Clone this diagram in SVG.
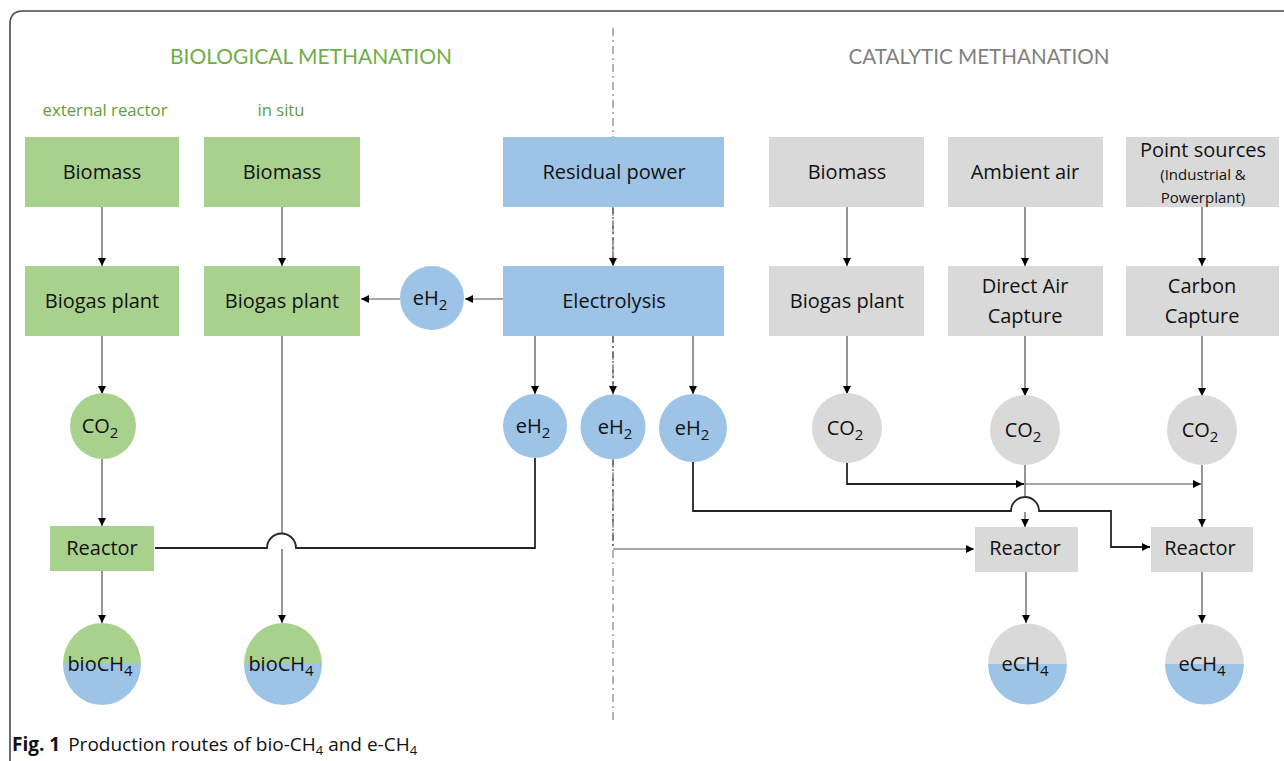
<svg xmlns="http://www.w3.org/2000/svg" width="1284" height="761" viewBox="0 0 1284 761">
<style>
  .lbl { font-family: "Open Sans", "Liberation Sans", sans-serif; font-size: 20px; fill: #111; text-anchor: middle; }
  .sub { font-size: 15px; }
  .small { font-family: "Open Sans", "Liberation Sans", sans-serif; font-size: 15px; fill: #111; text-anchor: middle; }
  .green { fill: #A9D18E; }
  .blue { fill: #9DC3E6; }
  .gray { fill: #D9D9D9; }
  .c { fill: none; stroke: #505050; stroke-width: 1.2; }
  .thick { fill: none; stroke: #262626; stroke-width: 1.8; }
  .dd { fill: none; stroke: #505050; stroke-width: 1.2; stroke-dasharray: 7 3 2 3; }
  .title { font-family: Lato, "Open Sans", "Liberation Sans", sans-serif; font-size: 21px; text-anchor: middle; }
  .subtitle { font-family: "Open Sans", "Liberation Sans", sans-serif; font-size: 16px; fill: #5F9E3C; text-anchor: middle; }
  .cap { font-family: "Open Sans", "Liberation Sans", sans-serif; font-size: 19px; fill: #111; }
</style>
<defs>
  <marker id="arr" markerUnits="userSpaceOnUse" markerWidth="9" markerHeight="8" refX="8" refY="4" orient="auto">
    <path d="M0,0 L8,4 L0,8 z" fill="#000"/>
  </marker>
</defs>
<rect width="1284" height="761" fill="#fff"/>
<!-- frame -->
<path d="M10,761 V24 Q10,11 23,11 H1284" fill="none" stroke="#4a4a4a" stroke-width="1.6"/>
<!-- divider -->
<line x1="613" y1="28" x2="613" y2="722" stroke="#808080" stroke-width="1.2" stroke-dasharray="8 4 2 4"/>

<!-- headings -->
<text class="title" x="311" y="64" fill="#70AD47" textLength="282" lengthAdjust="spacingAndGlyphs">BIOLOGICAL METHANATION</text>
<text class="title" x="979" y="64" fill="#808080" textLength="261" lengthAdjust="spacingAndGlyphs">CATALYTIC METHANATION</text>
<text class="subtitle" x="105" y="116" textLength="125" lengthAdjust="spacingAndGlyphs">external reactor</text>
<text class="subtitle" x="281" y="116" textLength="47" lengthAdjust="spacingAndGlyphs">in situ</text>

<g id="connectors">
  <path class="c" d="M102,207 V266" marker-end="url(#arr)"/>
  <path class="c" d="M282,207 V266" marker-end="url(#arr)"/>
  <path class="c" d="M102,336 V394" marker-end="url(#arr)"/>
  <path class="c" d="M102,459 V526" marker-end="url(#arr)"/>
  <path class="c" d="M102,571 V623" marker-end="url(#arr)"/>
  <path class="c" d="M282,336 V534"/>
  <path class="c" d="M282,549 V623" marker-end="url(#arr)"/>
  <path class="thick" d="M535,458 V548 H296 A14.5,14.5 0 0 0 267,548 H155"/>
  <path class="dd" d="M613,207 V266" marker-end="url(#arr)"/>
  <path class="c" d="M503,299 H465" marker-end="url(#arr)"/>
  <path class="c" d="M400,299 H361" marker-end="url(#arr)"/>
  <path class="c" d="M535,336 V394" marker-end="url(#arr)"/>
  <path class="dd" d="M613,336 V394" marker-end="url(#arr)"/>
  <path class="c" d="M693,336 V394" marker-end="url(#arr)"/>
  <path class="dd" d="M613,459 V549"/>
  <path class="c" d="M613,549 H974" marker-end="url(#arr)"/>
  <path class="thick" d="M693,462 V511 H1011 A14,14 0 0 1 1039,511 H1111 V547 H1150" marker-end="url(#arr)"/>
  <path class="c" d="M847,207 V266" marker-end="url(#arr)"/>
  <path class="c" d="M1025,207 V266" marker-end="url(#arr)"/>
  <path class="c" d="M1202,207 V266" marker-end="url(#arr)"/>
  <path class="c" d="M847,336 V394" marker-end="url(#arr)"/>
  <path class="c" d="M1025,336 V396" marker-end="url(#arr)"/>
  <path class="c" d="M1202,336 V396" marker-end="url(#arr)"/>
  <path class="thick" d="M847,462 V484 H1024" marker-end="url(#arr)"/>
  <path class="c" d="M1025,484 H1201" marker-end="url(#arr)"/>
  <path class="c" d="M1025,465 V497"/>
  <path class="c" d="M1025,512 V527" marker-end="url(#arr)"/>
  <path class="c" d="M1202,465 V527" marker-end="url(#arr)"/>
  <path class="c" d="M1026,572 V623" marker-end="url(#arr)"/>
  <path class="c" d="M1202,572 V623" marker-end="url(#arr)"/>
</g>

<g id="biomass-ext"><rect class="green" x="25" y="137" width="154" height="70"/><text class="lbl" x="102" y="179">Biomass</text></g>
<g id="biomass-insitu"><rect class="green" x="204" y="137" width="156" height="70"/><text class="lbl" x="282" y="179">Biomass</text></g>
<g id="biogas-ext"><rect class="green" x="25" y="266" width="154" height="70"/><text class="lbl" x="102" y="308">Biogas plant</text></g>
<g id="biogas-insitu"><rect class="green" x="204" y="266" width="156" height="70"/><text class="lbl" x="282" y="308">Biogas plant</text></g>
<g id="co2-bio"><circle class="green" cx="103" cy="426" r="33"/><text class="lbl" x="100" y="433">CO<tspan class="sub" dy="5">2</tspan></text></g>
<g id="reactor-bio"><rect class="green" x="50" y="526" width="104" height="45"/><text class="lbl" x="102" y="555">Reactor</text></g>
<g id="bioch4-1"><path class="green" d="M63,664 A39,41 0 0 1 141,664 Z"/><path class="blue" d="M63,664 A39,41 0 0 0 141,664 Z"/><text class="lbl" x="100" y="671">bioCH<tspan class="sub" dy="5">4</tspan></text></g>
<g id="bioch4-2"><path class="green" d="M244,664 A39,41 0 0 1 322,664 Z"/><path class="blue" d="M244,664 A39,41 0 0 0 322,664 Z"/><text class="lbl" x="281" y="671">bioCH<tspan class="sub" dy="5">4</tspan></text></g>

<g id="residual-power"><rect class="blue" x="503" y="137" width="221" height="70"/><text class="lbl" x="614" y="179">Residual power</text></g>
<g id="electrolysis"><rect class="blue" x="503" y="266" width="221" height="70"/><text class="lbl" x="614" y="308">Electrolysis</text></g>
<g id="eh2-insitu"><circle class="blue" cx="432" cy="298" r="32"/><text class="lbl" x="430" y="305">eH<tspan class="sub" dy="5">2</tspan></text></g>
<g id="eh2-a"><circle class="blue" cx="535" cy="426" r="32"/><text class="lbl" x="533" y="433">eH<tspan class="sub" dy="5">2</tspan></text></g>
<g id="eh2-b"><circle class="blue" cx="613" cy="427" r="32.5"/><text class="lbl" x="615" y="434">eH<tspan class="sub" dy="5">2</tspan></text></g>
<g id="eh2-c"><circle class="blue" cx="693" cy="428" r="34"/><text class="lbl" x="692" y="435">eH<tspan class="sub" dy="5">2</tspan></text></g>

<g id="biomass-cat"><rect class="gray" x="769" y="137" width="155" height="70"/><text class="lbl" x="847" y="179">Biomass</text></g>
<g id="ambient-air"><rect class="gray" x="948" y="137" width="155" height="70"/><text class="lbl" x="1025" y="179">Ambient air</text></g>
<g id="point-sources"><rect class="gray" x="1126" y="137" width="153" height="70"/><text class="lbl" x="1203" y="157">Point sources</text><text class="small" x="1203" y="180">(Industrial &amp;</text><text class="small" x="1203" y="203">Powerplant)</text></g>
<g id="biogas-cat"><rect class="gray" x="769" y="266" width="155" height="70"/><text class="lbl" x="847" y="308">Biogas plant</text></g>
<g id="dac"><rect class="gray" x="948" y="266" width="155" height="70"/><text class="lbl" x="1025" y="293">Direct Air</text><text class="lbl" x="1025" y="323">Capture</text></g>
<g id="carbon-capture"><rect class="gray" x="1126" y="266" width="153" height="70"/><text class="lbl" x="1202" y="293">Carbon</text><text class="lbl" x="1202" y="323">Capture</text></g>
<g id="co2-cat-1"><circle class="gray" cx="847" cy="428" r="35"/><text class="lbl" x="845" y="435">CO<tspan class="sub" dy="5">2</tspan></text></g>
<g id="co2-cat-2"><circle class="gray" cx="1025" cy="430" r="35"/><text class="lbl" x="1023" y="437">CO<tspan class="sub" dy="5">2</tspan></text></g>
<g id="co2-cat-3"><circle class="gray" cx="1202" cy="430" r="35"/><text class="lbl" x="1200" y="437">CO<tspan class="sub" dy="5">2</tspan></text></g>
<g id="reactor-cat-1"><rect class="gray" x="975" y="527" width="103" height="45"/><text class="lbl" x="1025" y="555">Reactor</text></g>
<g id="reactor-cat-2"><rect class="gray" x="1151" y="527" width="102" height="45"/><text class="lbl" x="1200" y="555">Reactor</text></g>
<g id="ech4-1"><path class="gray" d="M988,664 A39.5,40.5 0 0 1 1067,664 Z"/><path class="blue" d="M988,664 A39.5,40.5 0 0 0 1067,664 Z"/><text class="lbl" x="1025" y="671">eCH<tspan class="sub" dy="5">4</tspan></text></g>
<g id="ech4-2"><path class="gray" d="M1165,664 A39.5,40.5 0 0 1 1244,664 Z"/><path class="blue" d="M1165,664 A39.5,40.5 0 0 0 1244,664 Z"/><text class="lbl" x="1202" y="671">eCH<tspan class="sub" dy="5">4</tspan></text></g>

<text class="cap" x="12" y="751"><tspan font-weight="bold">Fig. 1</tspan><tspan dx="8">Production routes of bio-CH</tspan><tspan font-size="13" dy="4">4</tspan><tspan dy="-4"> and e-CH</tspan><tspan font-size="13" dy="4">4</tspan></text>
</svg>
